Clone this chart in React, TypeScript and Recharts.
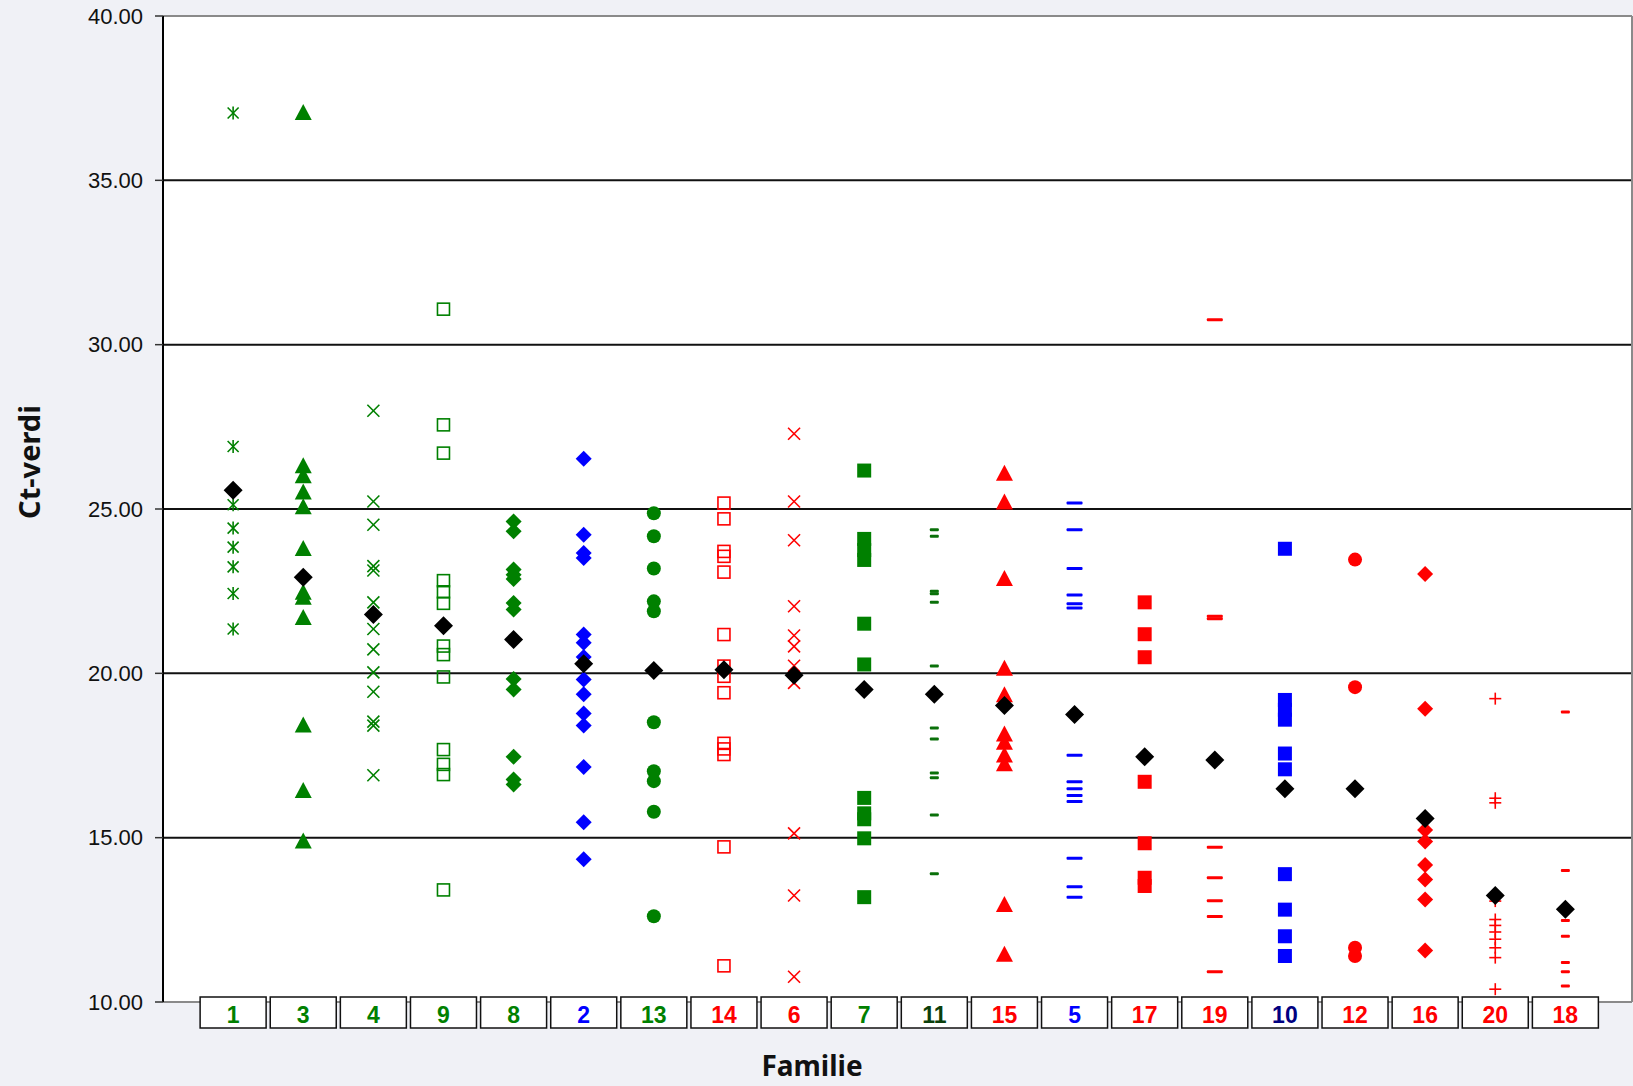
import React from 'react';
import { ScatterChart, Scatter, XAxis, YAxis, CartesianGrid, ReferenceLine } from 'recharts';

// ---- data ----
const families = ['1', '3', '4', '9', '8', '2', '13', '14', '6', '7', '11', '15', '5', '17', '19', '10', '12', '16', '20', '18'];

const fam1 = [37.05, 26.9, 25.13, 24.42, 23.84, 23.24, 22.43, 21.35];
const fam3 = [37.05, 26.3, 26.0, 25.5, 25.05, 23.78, 22.45, 22.3, 21.68, 18.41, 16.42, 14.88];
const fam4 = [27.99, 25.23, 24.52, 23.26, 23.13, 22.16, 21.35, 20.73, 20.03, 19.44, 18.53, 18.41, 16.9];
const fam9 = [31.08, 27.56, 26.7, 22.82, 22.48, 22.13, 20.83, 20.57, 19.89, 17.68, 17.23, 16.92, 13.41];
const fam8 = [24.62, 24.32, 23.16, 23.0, 22.87, 22.14, 21.94, 19.83, 19.51, 17.46, 16.77, 16.62];
const fam2 = [26.53, 24.22, 23.66, 23.51, 21.18, 20.93, 20.5, 19.81, 19.36, 18.78, 18.41, 17.15, 15.47, 14.34];
const fam13 = [24.87, 24.17, 23.19, 22.19, 21.89, 18.51, 17.02, 16.72, 15.79, 12.61];
const fam14 = [25.18, 24.7, 23.71, 23.56, 23.08, 21.18, 20.22, 19.91, 19.41, 17.87, 17.7, 17.53, 14.72, 11.1];
const fam6 = [27.29, 25.23, 24.05, 22.04, 21.15, 20.82, 20.23, 19.71, 15.13, 13.24, 10.77];
const fam7 = [26.17, 24.09, 23.75, 23.45, 21.51, 20.27, 16.21, 15.74, 15.56, 14.98, 13.19];
const fam11 = [24.37, 24.17, 22.5, 22.42, 22.16, 20.22, 18.34, 18.0, 16.97, 16.82, 15.69, 13.9];
const fam15 = [26.07, 25.2, 22.87, 20.14, 19.33, 18.14, 17.89, 17.5, 17.23, 12.95, 11.44];
const fam5 = [25.18, 24.37, 23.19, 22.38, 22.12, 21.99, 17.51, 16.7, 16.49, 16.28, 16.1, 14.37, 13.51, 13.19];
const fam17 = [22.16, 21.19, 20.49, 16.7, 14.83, 13.78, 13.53];
const fam19 = [30.76, 21.74, 21.66, 14.71, 13.78, 13.08, 12.6, 10.92];
const fam10 = [23.79, 19.19, 18.89, 18.59, 17.56, 17.08, 13.89, 12.81, 12.0, 11.4];
const fam12 = [23.46, 19.58, 11.65, 11.4];
const fam16 = [23.02, 18.92, 15.23, 14.88, 14.17, 13.73, 13.12, 11.57];
const fam20 = [19.23, 16.2, 16.06, 13.07, 12.51, 12.33, 12.13, 11.91, 11.65, 11.35, 10.39];
const fam18 = [18.82, 14.0, 12.48, 12.0, 11.2, 10.92, 10.49];

const familyValues = [fam1, fam3, fam4, fam9, fam8, fam2, fam13, fam14, fam6, fam7, fam11, fam15, fam5, fam17, fam19, fam10, fam12, fam16, fam20, fam18];

const familyMeans = [25.57, 22.92, 21.79, 21.45, 21.03, 20.29, 20.09, 20.11, 19.94, 19.51, 19.36, 19.02, 18.75, 17.46, 17.36, 16.49, 16.49, 15.58, 13.24, 12.82];

const yTicks = [10, 15, 20, 25, 30, 35, 40];
const gridValues = [15, 20, 25, 30, 35];

// ---- styles ----
const GREEN = '#008000';
const BLUE = '#0000ff';
const RED = '#ff0000';
const DARKGREEN = '#0b3f0b';
const NAVY = '#000080';

const labelColors = [GREEN, GREEN, GREEN, GREEN, GREEN, BLUE, GREEN, RED, RED, GREEN, DARKGREEN, RED, BLUE, RED, RED, NAVY, RED, RED, RED, RED];
const markerColors = [GREEN, GREEN, GREEN, GREEN, GREEN, BLUE, GREEN, RED, RED, GREEN, '#0a700a', RED, BLUE, RED, RED, BLUE, RED, RED, RED, RED];
const markerKinds = ['asterisk', 'triangle', 'x', 'openSquare', 'diamond', 'diamond', 'circle', 'openSquare', 'x', 'square', 'dashSmall', 'triangle', 'dashWide', 'square', 'dashWide', 'square', 'circle', 'diamond', 'plus', 'dashSmall'];

const X_MAX = 20.95;

function drawMarker(kind: string, color: string, cx: number, cy: number) {
  const sw = 1.6;
  switch (kind) {
    case 'asterisk':
      return (
        <g stroke={color} strokeWidth={sw} fill="none">
          <line x1={cx - 5.5} y1={cy - 5.5} x2={cx + 5.5} y2={cy + 5.5} />
          <line x1={cx - 5.5} y1={cy + 5.5} x2={cx + 5.5} y2={cy - 5.5} />
          <line x1={cx} y1={cy - 6.5} x2={cx} y2={cy + 6.5} />
        </g>
      );
    case 'x':
      return (
        <g stroke={color} strokeWidth={sw} fill="none">
          <line x1={cx - 6} y1={cy - 6} x2={cx + 6} y2={cy + 6} />
          <line x1={cx - 6} y1={cy + 6} x2={cx + 6} y2={cy - 6} />
        </g>
      );
    case 'plus':
      return (
        <g stroke={color} strokeWidth={sw} fill="none">
          <line x1={cx - 6} y1={cy} x2={cx + 6} y2={cy} />
          <line x1={cx} y1={cy - 6} x2={cx} y2={cy + 6} />
        </g>
      );
    case 'triangle':
      return <polygon points={`${cx},${cy - 9} ${cx - 8.5},${cy + 7} ${cx + 8.5},${cy + 7}`} fill={color} />;
    case 'openSquare':
      return <rect x={cx - 6} y={cy - 6} width={12} height={12} fill="none" stroke={color} strokeWidth={sw} />;
    case 'square':
      return <rect x={cx - 7} y={cy - 7} width={14} height={14} fill={color} />;
    case 'diamond':
      return <polygon points={`${cx},${cy - 8} ${cx + 8},${cy} ${cx},${cy + 8} ${cx - 8},${cy}`} fill={color} />;
    case 'circle':
      return <circle cx={cx} cy={cy} r={7} fill={color} />;
    case 'dashSmall':
      return <rect x={cx - 4.5} y={cy - 1.5} width={9} height={3} rx={1} fill={color} />;
    case 'dashWide':
      return <rect x={cx - 8} y={cy - 1.5} width={16} height={3} rx={1} fill={color} />;
    case 'mean':
      return <polygon points={`${cx},${cy - 9.5} ${cx + 9.5},${cy} ${cx},${cy + 9.5} ${cx - 9.5},${cy}`} fill="#000" />;
    default:
      return <circle cx={cx} cy={cy} r={5} fill={color} />;
  }
}

const seriesData = families.map((f, i) => familyValues[i].map((v) => ({ x: i + 1, y: v })));
const meanData = familyMeans.map((v, i) => ({ x: i + 1, y: v }));
const xTicks = families.map((_, i) => i + 1);

const FamilyTick = (props: any) => {
  const { x, y, payload } = props;
  const idx = Math.round(payload.value) - 1;
  if (idx < 0 || idx >= families.length) return null;
  return (
    <g>
      <rect x={x - 33} y={y - 5} width={66} height={31} fill="#fff" stroke="#111" strokeWidth={1.5} />
      <text x={x} y={y + 21} textAnchor="middle" fontFamily="'Liberation Sans', Arial, sans-serif" fontWeight="bold" fontSize={23} fill={labelColors[idx]}>
        {families[idx]}
      </text>
    </g>
  );
};

export default function App() {
  return (
    <div style={{ position: 'absolute', left: 0, top: 0, width: 1633, height: 1086, background: '#f0f1f6', overflow: 'hidden' }}>
      <ScatterChart width={1633} height={1086} margin={{ top: 16, right: 1, bottom: 0, left: 0 }}>
        <CartesianGrid fill="#ffffff" horizontal={false} vertical={false} />
        {gridValues.map((g) => (
          <ReferenceLine key={g} y={g} stroke="#111" strokeWidth={2} />
        ))}
        <ReferenceLine y={40} stroke="#8a8a8a" strokeWidth={2} />
        <ReferenceLine x={X_MAX} stroke="#8a8a8a" strokeWidth={2} />
        <XAxis
          type="number"
          dataKey="x"
          domain={[0, X_MAX]}
          ticks={xTicks}
          interval={0}
          height={84}
          tickSize={0}
          tickMargin={0}
          tickLine={false}
          axisLine={{ stroke: '#8a8a8a', strokeWidth: 2 }}
          tick={<FamilyTick />}
          allowDataOverflow
        />
        <YAxis
          type="number"
          dataKey="y"
          domain={[10, 40]}
          ticks={yTicks}
          interval={0}
          width={163}
          tickSize={8}
          tickMargin={12}
          tickFormatter={(v: number) => v.toFixed(2)}
          axisLine={{ stroke: '#000', strokeWidth: 2 }}
          tickLine={{ stroke: '#333', strokeWidth: 1.5 }}
          tick={{ fontSize: 22, fill: '#111', fontFamily: "'Liberation Sans', Arial, sans-serif" }}
          allowDataOverflow
        />
        {seriesData.map((d, i) => (
          <Scatter
            key={families[i]}
            name={families[i]}
            data={d}
            isAnimationActive={false}
            shape={(p: any) => drawMarker(markerKinds[i], markerColors[i], p.cx, p.cy)}
          />
        ))}
        <Scatter
          name="mean"
          data={meanData}
          isAnimationActive={false}
          shape={(p: any) => drawMarker('mean', '#000', p.cx, p.cy)}
        />
      </ScatterChart>
      <svg width={1633} height={1086} style={{ position: 'absolute', left: 0, top: 0, pointerEvents: 'none' }}>
        <text
          x={40}
          y={462}
          transform="rotate(-90 40 462)"
          textAnchor="middle"
          fontFamily="'Noto Sans', 'Open Sans', sans-serif"
          fontWeight="bold"
          fontSize={29}
          fill="#111"
        >
          Ct-verdi
        </text>
        <text x={812} y={1076} textAnchor="middle" fontFamily="'Noto Sans', 'Open Sans', sans-serif" fontWeight="bold" fontSize={28} fill="#111">
          Familie
        </text>
      </svg>
    </div>
  );
}
